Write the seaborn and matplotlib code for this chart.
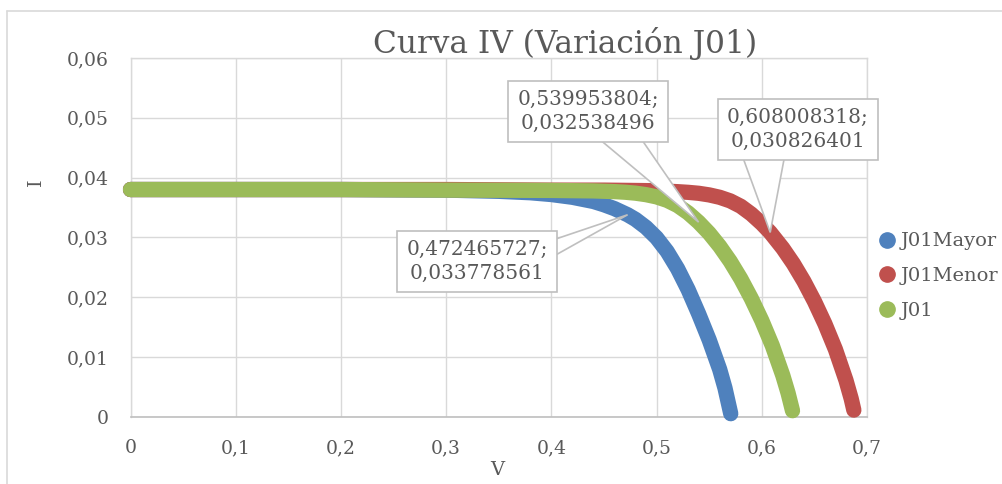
import matplotlib
matplotlib.use("Agg")
import matplotlib.pyplot as plt
import matplotlib.transforms as mtransforms
from matplotlib.lines import Line2D
from matplotlib.patches import Polygon
import pandas as pd
import seaborn as sns

# Series of the I-V curves (voltage V, current I)
series_names = ["J01Mayor", "J01Menor", "J01"]
series_colors = ["#4f81bd", "#c0504d", "#9bbb59"]

v_mayor = [0.000, 0.100, 0.200, 0.300, 0.350, 0.380, 0.400, 0.420, 0.440, 0.450, 0.460,
           0.472465727, 0.480, 0.490, 0.500, 0.510, 0.520, 0.530, 0.540, 0.550,
           0.560, 0.565, 0.5705]
i_mayor = [0.0380, 0.0380, 0.0380, 0.0379, 0.0377, 0.03746, 0.03716, 0.0367, 0.0360,
           0.03545, 0.0348, 0.033778561, 0.0330, 0.03166, 0.02993, 0.02765, 0.02475,
           0.02125, 0.0172, 0.01285, 0.0079, 0.0048, 0.0005]

v_menor = [0.000, 0.100, 0.200, 0.300, 0.400, 0.450, 0.500, 0.520, 0.530, 0.540, 0.550,
           0.560, 0.570, 0.580, 0.590, 0.600, 0.608008318, 0.620, 0.630, 0.640, 0.650,
           0.660, 0.670, 0.680, 0.685, 0.6875]
i_menor = [0.0380, 0.0380, 0.0380, 0.0380, 0.0379, 0.0379, 0.0378, 0.03764, 0.03753,
           0.03737, 0.0371, 0.0367, 0.0361, 0.0352, 0.0339, 0.0323, 0.030826401, 0.02817,
           0.0256, 0.02265, 0.0193, 0.01553, 0.01125, 0.0061, 0.0030, 0.0011]

v_j01 = [0.000, 0.100, 0.200, 0.300, 0.400, 0.440, 0.460, 0.470, 0.480, 0.490, 0.500,
         0.510, 0.520, 0.530, 0.539953804, 0.550, 0.560, 0.570, 0.580, 0.590, 0.600,
         0.610, 0.620, 0.625, 0.6292]
i_j01 = [0.0380, 0.0380, 0.0380, 0.0379, 0.03785, 0.03777, 0.03765, 0.03755, 0.03739,
         0.03714, 0.03677, 0.03619, 0.03532, 0.03409, 0.032538496, 0.03069, 0.02851,
         0.02599, 0.02309, 0.01979, 0.01609, 0.01189, 0.00689, 0.00394, 0.0010]

# Labelled points
label_series = ["J01Mayor", "J01", "J01Menor"]
label_v = [0.472465727, 0.539953804, 0.608008318]
label_i = [0.033778561, 0.032538496, 0.030826401]

x_ticks = [0.0, 0.1, 0.2, 0.3, 0.4, 0.5, 0.6, 0.7]
x_ticklabels = ["0", "0,1", "0,2", "0,3", "0,4", "0,5", "0,6", "0,7"]
y_ticks = [0.0, 0.01, 0.02, 0.03, 0.04, 0.05, 0.06]
y_ticklabels = ["0", "0,01", "0,02", "0,03", "0,04", "0,05", "0,06"]

TEXT = "#595959"
GRID = "#d9d9d9"
EDGE = "#bfbfbf"

sns.set_theme(style="white")
plt.rcParams["font.family"] = ["DejaVu Serif"]

W, H = 1002, 484
fig = plt.figure(figsize=(W / 100, H / 100), dpi=100)
fig.patch.set_facecolor("white")
ax = fig.add_axes([130.5 / W, 1 - 416.7 / H, 736.5 / W, 358.7 / H])

df = pd.concat([
    pd.DataFrame({"V": v_mayor, "I": i_mayor, "serie": "J01Mayor"}),
    pd.DataFrame({"V": v_menor, "I": i_menor, "serie": "J01Menor"}),
    pd.DataFrame({"V": v_j01, "I": i_j01, "serie": "J01"}),
], ignore_index=True)

sns.lineplot(data=df, x="V", y="I", hue="serie", hue_order=series_names,
             palette=series_colors, sort=False, estimator=None, legend=False,
             linewidth=11, solid_capstyle="round", solid_joinstyle="round",
             clip_on=False, zorder=3, ax=ax)

ax.set_xlim(0, 0.7)
ax.set_ylim(0, 0.06)
ax.set_xticks(x_ticks)
ax.set_xticklabels(x_ticklabels)
ax.set_yticks(y_ticks)
ax.set_yticklabels(y_ticklabels)
ax.tick_params(length=0, pad=16, labelsize=13.5, labelcolor=TEXT)
ax.grid(True, color=GRID, linewidth=1.0)
ax.set_axisbelow(True)
for side in ["left", "top", "right"]:
    ax.spines[side].set_color(GRID)
    ax.spines[side].set_linewidth(1.0)
ax.spines["bottom"].set_color(EDGE)
ax.spines["bottom"].set_linewidth(1.2)

ax.set_xlabel("V", fontsize=14, color=TEXT)
ax.xaxis.set_label_coords(0.4977, -0.1486)
ax.xaxis.label.set_va("center")
ax.set_ylabel("I", fontsize=14, color=TEXT)
ax.yaxis.set_label_coords(-0.128, 0.654)
ax.yaxis.label.set_va("center")

# Data label callouts: box offset from the point and the pointer base (pixels)
box_offset = {"J01Mayor": (-150.6, -46.8), "J01": (-110.5, 110.6), "J01Menor": (27.4, 103.2)}
pointer_base = {"J01Mayor": [(-72.0, -24.3), (-72.0, -40.3)],
                "J01": [(-96.8, 81.0), (-55.8, 81.0)],
                "J01Menor": [(-26.8, 73.5), (13.9, 73.5)]}
fig.canvas.draw()
for name, lv, li in zip(label_series, label_v, label_i):
    px, py = ax.transData.transform((lv, li))
    to_point = mtransforms.Affine2D().translate(px, py)
    b1, b2 = pointer_base[name]
    ax.add_patch(Polygon([b1, (0.0, 0.0), b2], closed=False, transform=to_point,
                         facecolor="white", edgecolor=EDGE, linewidth=1.2,
                         zorder=5, clip_on=False))
    txt = f"{lv:.9f}".replace(".", ",") + ";\n" + f"{li:.9f}".replace(".", ",")
    ax.annotate(txt, xy=(lv, li), xytext=box_offset[name], textcoords="offset pixels",
                ha="center", va="center", multialignment="center",
                fontsize=14.5, color=TEXT, zorder=6, linespacing=1.3,
                bbox=dict(boxstyle="square,pad=0.45", fc="white", ec=EDGE, lw=1.2))

fig.text(565 / W, 1 - 53 / H, "Curva IV (Variación J01)", ha="center",
         va="baseline", fontsize=22.5, color=TEXT)

handles = [Line2D([], [], marker="o", linestyle="", markersize=11,
                  markerfacecolor=c, markeredgecolor=c) for c in series_colors]
fig.legend(handles, series_names, loc="center left",
           bbox_to_anchor=(879 / W, 1 - 276 / H), frameon=False, fontsize=14,
           handlelength=0.8, handletextpad=0.3, labelspacing=0.85,
           borderpad=0, borderaxespad=0, labelcolor=TEXT)

# Chart area frame
fig.add_artist(Line2D([7 / W, 7 / W], [0, 1 - 11 / H], transform=fig.transFigure,
                      color=GRID, lw=1.2))
fig.add_artist(Line2D([7 / W, 1], [1 - 11 / H, 1 - 11 / H], transform=fig.transFigure,
                      color=GRID, lw=1.2))

fig.savefig("out.png", dpi=100, facecolor="white")
